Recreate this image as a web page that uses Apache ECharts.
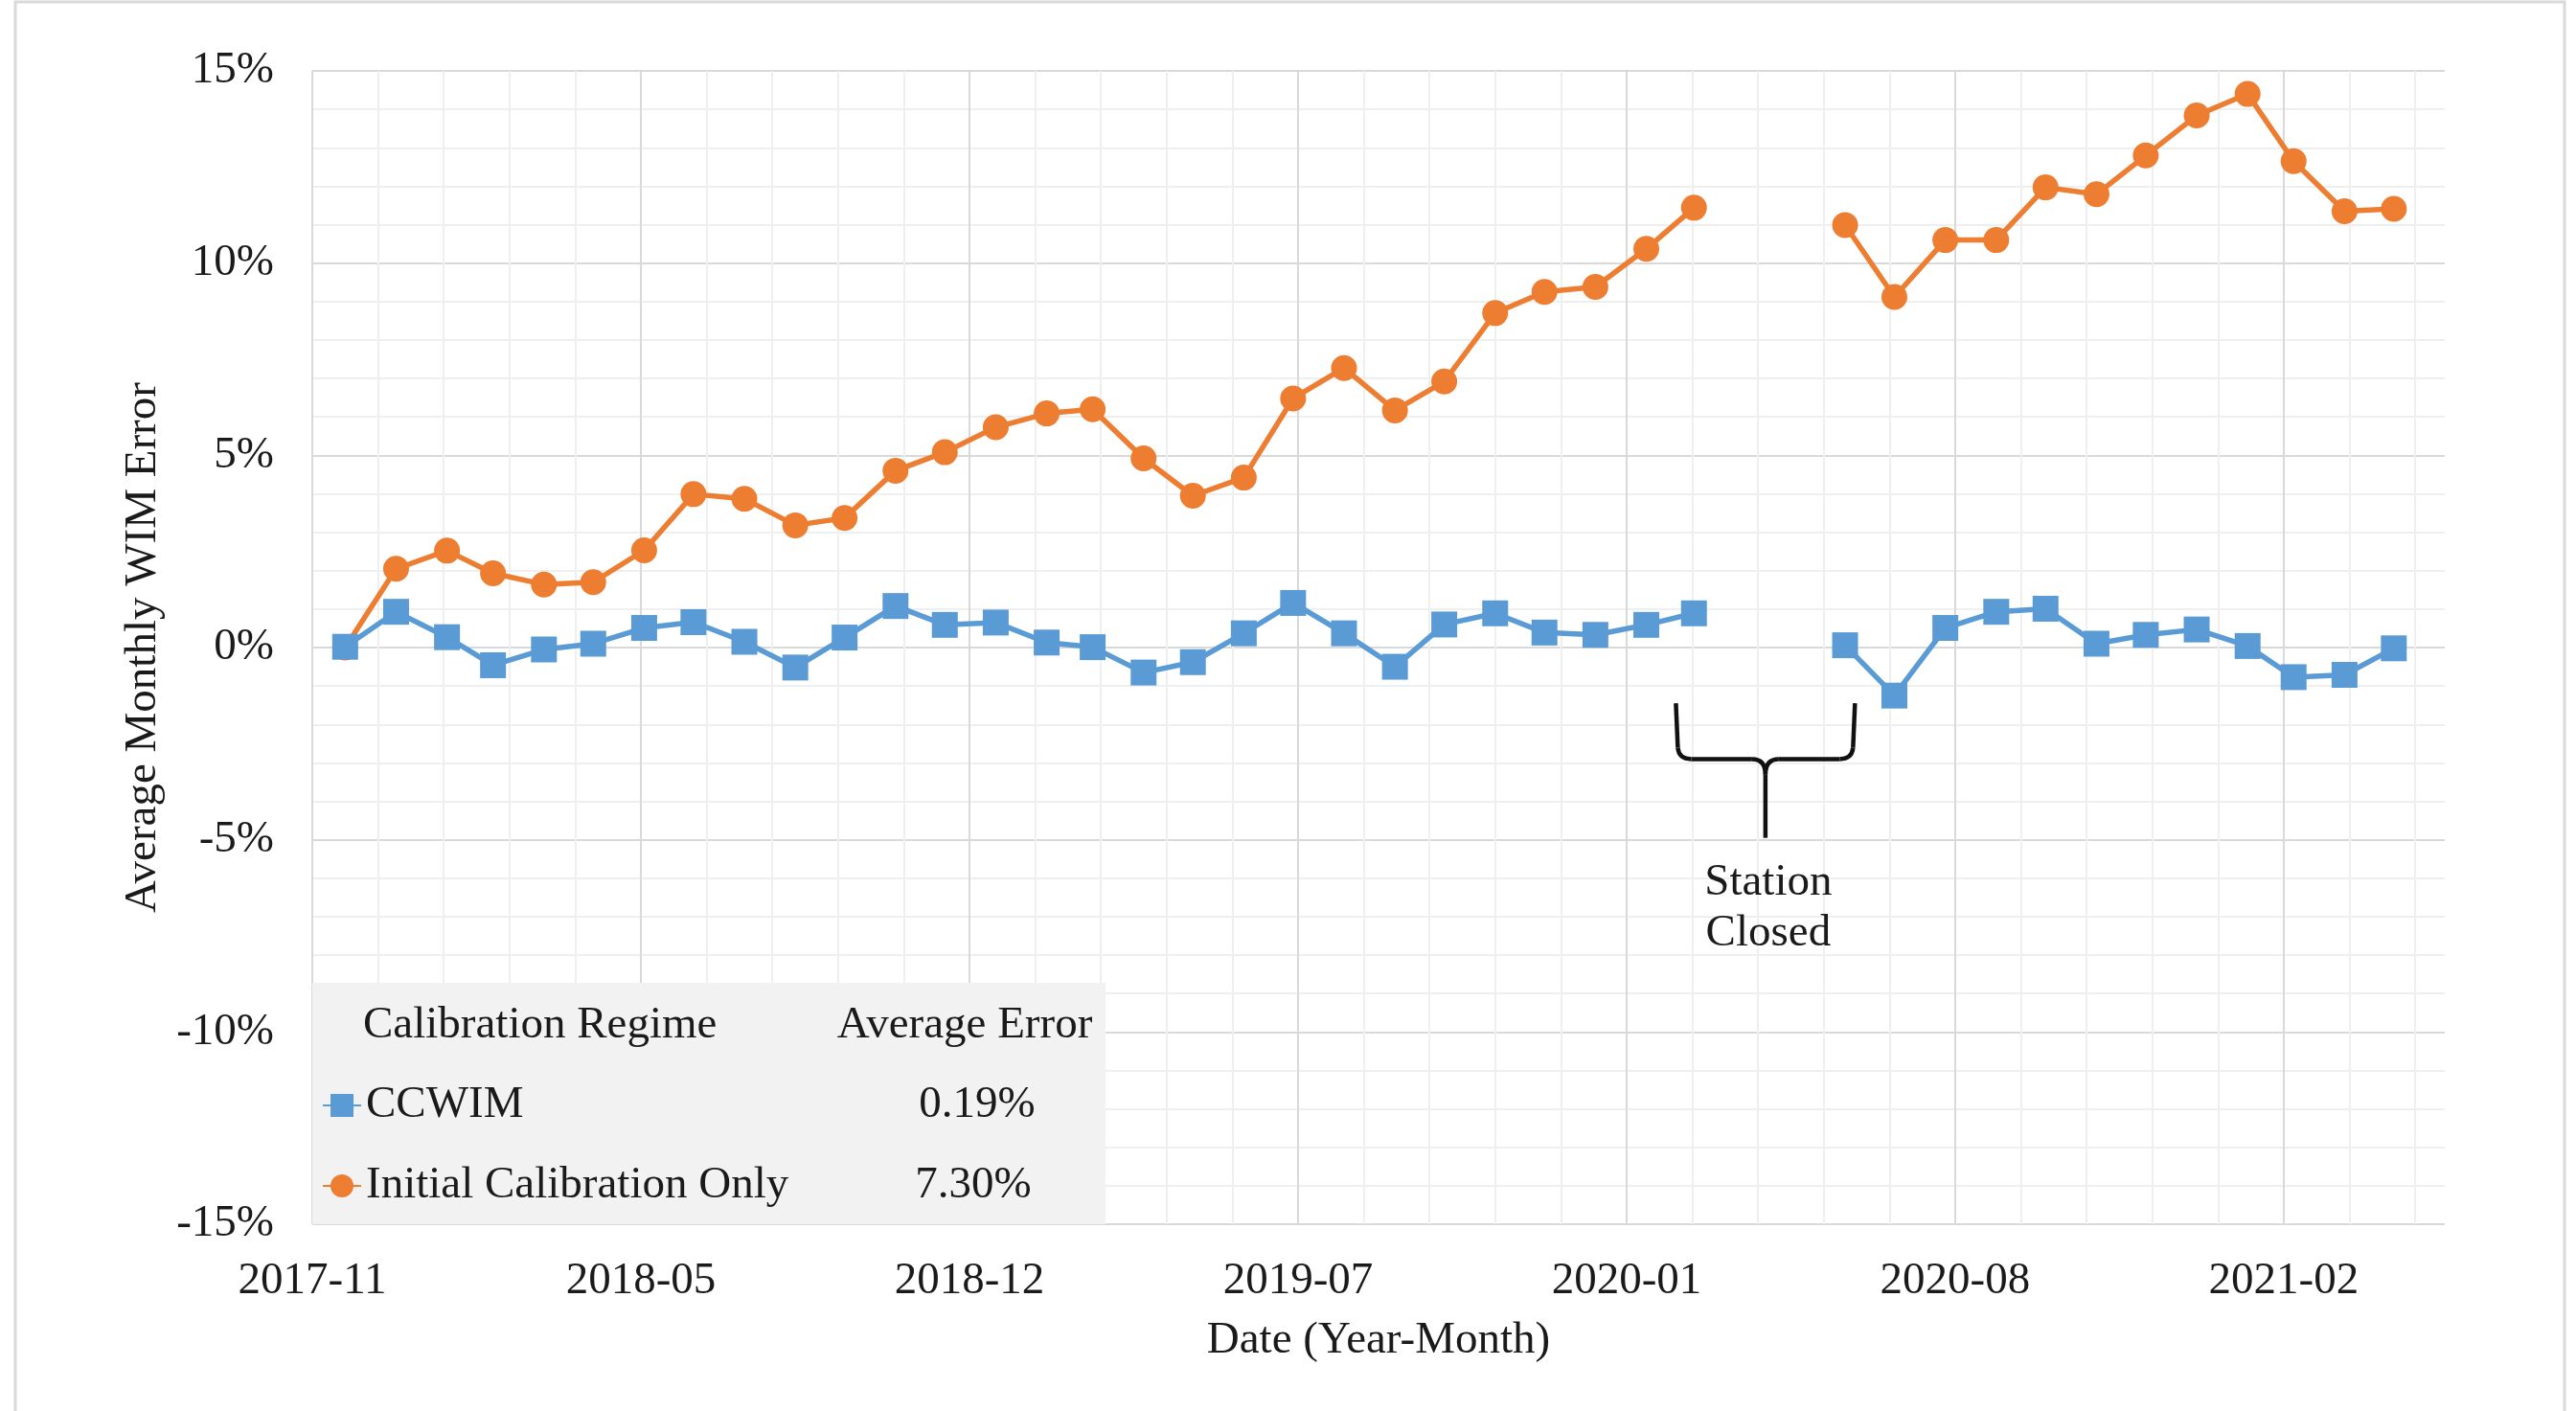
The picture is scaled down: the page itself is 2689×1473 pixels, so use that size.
<!DOCTYPE html>
<html>
<head>
<meta charset="utf-8">
<title>Average Monthly WIM Error</title>
<script src="https://cdn.jsdelivr.net/npm/echarts@6/dist/echarts.min.js"></script>
<style>
  html, body { margin: 0; padding: 0; background: #fff; }
  #main { width: 2689px; height: 1473px; }
</style>
</head>
<body>
<div id="main"></div>
<script>
// monthly points, gap while the station was closed
var months = ['2017-12',
  '2018-01', '2018-02', '2018-03', '2018-04', '2018-05', '2018-06',
  '2018-07', '2018-08', '2018-09', '2018-10', '2018-11', '2018-12',
  '2019-01', '2019-02', '2019-03', '2019-04', '2019-05', '2019-06',
  '2019-07', '2019-08', '2019-09', '2019-10', '2019-11', '2019-12',
  '2020-01', '2020-02', '2020-03', '2020-04', '2020-05', '2020-06',
  '2020-07', '2020-08', '2020-09', '2020-10', '2020-11', '2020-12',
  '2021-01', '2021-02', '2021-03', '2021-04', '2021-05'];

var ccwim = [0.02,
  0.93, 0.27, -0.46, -0.05, 0.10, 0.51,
  0.66, 0.15, -0.52, 0.26, 1.08, 0.59,
  0.65, 0.13, 0.01, -0.65, -0.38, 0.37,
  1.16, 0.37, -0.50, 0.60, 0.89, 0.39,
  0.33, 0.59, 0.89, null, null, 0.06,
  -1.25, 0.51, 0.93, 1.01, 0.10, 0.33,
  0.47, 0.04, -0.77, -0.71, -0.02];

var initialOnly = [0.00,
  2.05, 2.52, 1.93, 1.64, 1.70, 2.53,
  3.99, 3.87, 3.18, 3.37, 4.60, 5.08,
  5.73, 6.09, 6.20, 4.92, 3.95, 4.42,
  6.48, 7.27, 6.17, 6.92, 8.70, 9.25,
  9.38, 10.37, 11.44, null, null, 10.99,
  9.12, 10.60, 10.60, 11.97, 11.79, 12.80,
  13.84, 14.40, 12.65, 11.35, 11.41];

var seriesNames = ['CCWIM', 'Initial Calibration Only'];
var avgError = ['0.19%', '7.30%'];
var yTicks = [-15, -10, -5, 0, 5, 10, 15];
var closedRange = ['2020-02-19', '2020-06-07'];

var axisStart = '2017-11-11';
var axisEnd = '2021-06-01';
var dayStep = 200;

var FONT = "'Liberation Serif', 'Times New Roman', serif";
var TXT = '#1a1a1a';
var BLUE = '#5b9bd5';
var ORANGE = '#ed7d31';

var base = Date.UTC(2017, 10, 11);
function toDays(s) {
    var p = s.split('-');
    return Math.round((Date.UTC(+p[0], +p[1] - 1, p[2] ? +p[2] : 1) - base) / 86400000);
}
function pad(n) { return n < 10 ? '0' + n : '' + n; }
function dayLabel(v) {
    if (v % dayStep !== 0) return '';
    var d = new Date(base + v * 86400000);
    return d.getUTCFullYear() + '-' + pad(d.getUTCMonth() + 1);
}
function pairs(vals) {
    var out = [];
    for (var i = 0; i < months.length; i++) {
        out.push([toDays(months[i]), vals[i] == null ? '-' : vals[i]]);
    }
    return out;
}

var chart = echarts.init(document.getElementById('main'));
var xMin = toDays(axisStart);
var xMax = toDays(axisEnd);

var option = {
    animation: false,
    backgroundColor: '#fff',
    textStyle: { fontFamily: FONT },
    grid: { left: 326, right: 137, top: 74, bottom: 195 },
    legend: {
        data: seriesNames,
        orient: 'vertical',
        left: 336,
        top: 1129,
        padding: 0,
        itemGap: 34,
        itemWidth: 40,
        itemHeight: 30,
        selectedMode: false,
        textStyle: { fontFamily: FONT, fontSize: 47, lineHeight: 50, color: TXT }
    },
    xAxis: [{
        type: 'value',
        min: xMin,
        max: xMax,
        interval: dayStep,
        name: 'Date (Year-Month)',
        nameLocation: 'middle',
        nameGap: 98,
        nameTextStyle: { fontFamily: FONT, fontSize: 47, color: TXT },
        axisLine: { show: false },
        axisTick: { show: false },
        axisLabel: { margin: 36, fontFamily: FONT, fontSize: 47, color: TXT, formatter: dayLabel },
        splitLine: { show: true, showMaxLine: false, lineStyle: { color: '#d9d9d9', width: 2 } }
    }, {
        // minor vertical grid every 40 days
        type: 'value',
        position: 'top',
        min: xMin,
        max: xMax,
        interval: dayStep / 5,
        axisLine: { show: false },
        axisTick: { show: false },
        axisLabel: { show: false },
        splitLine: {
            show: true,
            showMaxLine: false,
            lineStyle: { color: ['rgba(0,0,0,0)', '#efefef', '#efefef', '#efefef', '#efefef'], width: 2 }
        }
    }],
    yAxis: {
        type: 'value',
        min: yTicks[0],
        max: yTicks[yTicks.length - 1],
        interval: 5,
        name: 'Average Monthly WIM Error',
        nameLocation: 'middle',
        nameGap: 148,
        nameTextStyle: { fontFamily: FONT, fontSize: 47, color: TXT },
        axisLine: { show: false },
        axisTick: { show: false },
        axisLabel: { margin: 40, fontFamily: FONT, fontSize: 47, color: TXT, formatter: function (v) { return v + '%'; } },
        splitLine: { show: true, lineStyle: { color: '#d9d9d9', width: 2 } },
        minorTick: { show: false, splitNumber: 5 },
        minorSplitLine: { show: true, lineStyle: { color: '#efefef', width: 2 } }
    },
    series: [{
        name: seriesNames[0],
        type: 'line',
        data: pairs(ccwim),
        connectNulls: false,
        symbol: 'rect',
        symbolSize: 27,
        lineStyle: { color: BLUE, width: 5.5 },
        itemStyle: { color: BLUE },
        z: 3
    }, {
        name: seriesNames[1],
        type: 'line',
        data: pairs(initialOnly),
        connectNulls: false,
        symbol: 'circle',
        symbolSize: 27,
        lineStyle: { color: ORANGE, width: 5.5 },
        itemStyle: { color: ORANGE },
        z: 2
    }]
};
chart.setOption(option);

// "Station Closed" brace, placed in data space
var p1 = chart.convertToPixel({ gridIndex: 0 }, [toDays(closedRange[0]), -1.45]);
var p2 = chart.convertToPixel({ gridIndex: 0 }, [toDays(closedRange[1]), -2.9]);
var p3 = chart.convertToPixel({ gridIndex: 0 }, [0, -4.95]);
var L = p1[0], R = p2[0], T = p1[1], H = p2[1], B = p3[1];
var C = (L + R) / 2;
var braceStyle = { fill: 'none', stroke: '#111', lineWidth: 4.5 };

function seg(x1, y1, x2, y2) {
    return { type: 'line', z: 5, silent: true, shape: { x1: x1, y1: y1, x2: x2, y2: y2 }, style: braceStyle };
}
function curve(x1, y1, cx, cy, x2, y2) {
    return { type: 'bezierCurve', z: 5, silent: true,
             shape: { x1: x1, y1: y1, x2: x2, y2: y2, cpx1: cx, cpy1: cy }, style: braceStyle };
}

chart.setOption({
    graphic: [
        { type: 'rect', z: 1, silent: true, shape: { x: 16, y: 2, width: 2661, height: 1480 },
          style: { fill: 'none', stroke: '#d9d9d9', lineWidth: 3 } },
        { type: 'rect', z: 1, silent: true, shape: { x: 326, y: 1026, width: 828, height: 252 },
          style: { fill: '#f2f2f2' } },
        { type: 'text', z: 5, x: 379, y: 1071,
          style: { text: 'Calibration Regime', font: '47px ' + FONT, fill: TXT, verticalAlign: 'middle' } },
        { type: 'text', z: 5, x: 1007, y: 1071,
          style: { text: 'Average Error', font: '47px ' + FONT, fill: TXT, align: 'center', verticalAlign: 'middle' } },
        { type: 'text', z: 5, x: 1020, y: 1154,
          style: { text: avgError[0], font: '47px ' + FONT, fill: TXT, align: 'center', verticalAlign: 'middle' } },
        { type: 'text', z: 5, x: 1016, y: 1238,
          style: { text: avgError[1], font: '47px ' + FONT, fill: TXT, align: 'center', verticalAlign: 'middle' } },
        seg(L, T, L + 2, H - 12),
        curve(L + 2, H - 12, L + 3, H, L + 16, H),
        seg(L + 16, H, C - 14, H),
        curve(C - 14, H, C, H, C, H + 16),
        curve(C + 14, H, C, H, C, H + 16),
        seg(C + 14, H, R - 16, H),
        curve(R - 16, H, R - 3, H, R - 2, H - 12),
        seg(R - 2, H - 12, R, T),
        seg(C, H + 16, C, B),
        { type: 'text', z: 5, x: C + 3, y: 948,
          style: { text: 'Station\nClosed', font: '47px ' + FONT, lineHeight: 53, fill: TXT,
                   align: 'center', verticalAlign: 'middle' } }
    ]
});
</script>
</body>
</html>
